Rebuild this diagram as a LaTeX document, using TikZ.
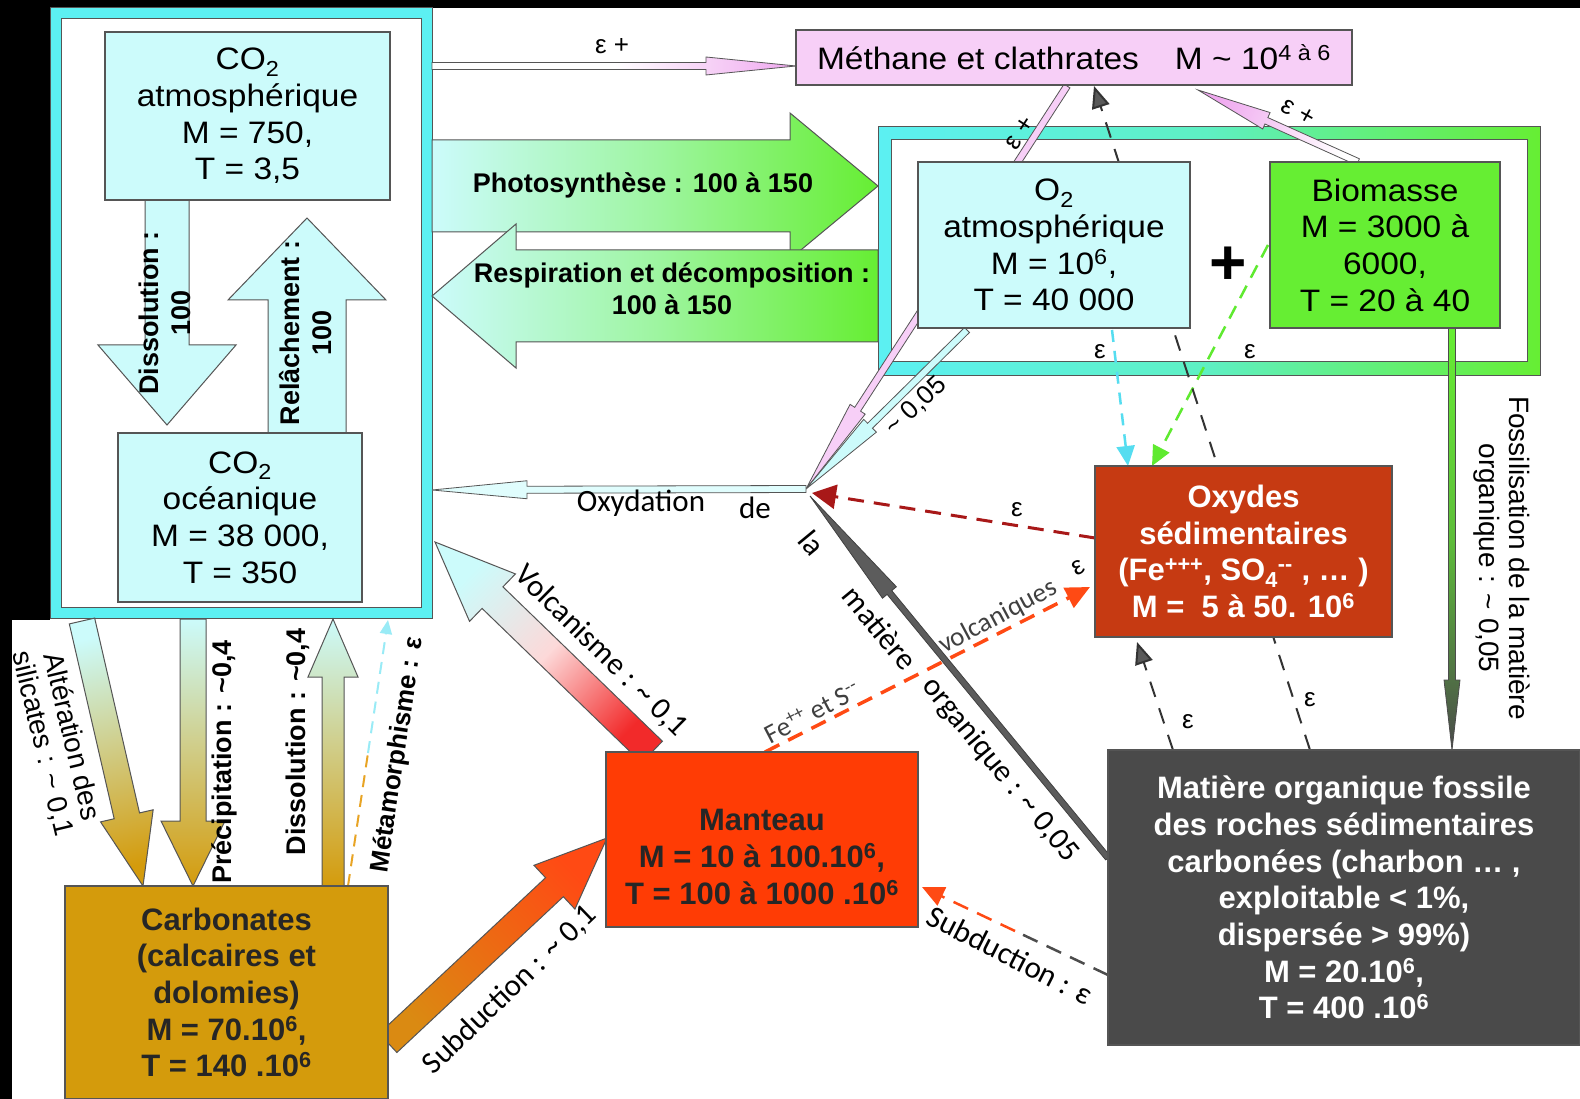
\documentclass[tikz,border=0pt]{standalone}
\usepackage{fontspec}
\setmainfont{Liberation Sans}
\newfontfamily\wideSans[FakeStretch=1.08]{Liberation Sans}
\newfontfamily\calSans{Carlito}
\usetikzlibrary{calc,arrows.meta}
\pgfdeclarelayer{back}
\pgfdeclarelayer{lines}
\pgfsetlayers{back,lines,main}
\definecolor{lcyan}{HTML}{CCFBFB}
\definecolor{fcyan}{HTML}{5CF0F2}
\definecolor{bgreen}{HTML}{66EE33}
\definecolor{lpink}{HTML}{F7CFF7}
\definecolor{hpink}{HTML}{EFA8EF}
\definecolor{mustard}{HTML}{D49B0C}
\definecolor{subor}{HTML}{DA8A12}
\definecolor{mred}{HTML}{FF3C05}
\definecolor{oxred}{HTML}{C63A12}
\definecolor{fgray}{HTML}{4A4A4A}
\definecolor{bord}{HTML}{555555}
\definecolor{dred}{HTML}{A81818}
\definecolor{orred}{HTML}{FF4A14}
\definecolor{dcyan}{HTML}{55DDF0}
\definecolor{dgreen}{HTML}{5FEA30}
\definecolor{vred}{HTML}{F22A2A}
\definecolor{metor}{HTML}{E8A424}
\newcommand\fBox{\wideSans\fontsize{31}{36.7}\selectfont}
\newcommand\fBoxB{\bfseries\fontsize{31}{36.7}\selectfont}
\newcommand\fLab{\bfseries\fontsize{27}{32}\selectfont}
\newcommand\fLabS{\bfseries\fontsize{26}{30}\selectfont}
\newcommand\fReg{\fontsize{26}{30}\selectfont}
\newcommand\fFos{\fontsize{28}{30}\selectfont}
\newcommand\fCal{\calSans\fontsize{31}{34}\selectfont}
\newcommand\fCals{\calSans\fontsize{27}{30}\selectfont}
\newcommand\tld{\textasciitilde}
\newcommand\blockarr[7]{%
  \coordinate (#7h) at ($(#3)!#6!(#2)$);
  \path[#1] ($(#2)!#4!90:(#3)$) -- ($(#7h)!#4!90:(#3)$) -- ($(#7h)!#5!90:(#3)$) -- (#3)
    -- ($(#7h)!#5!-90:(#3)$) -- ($(#7h)!#4!-90:(#3)$) -- ($(#2)!#4!-90:(#3)$) -- cycle;}
\tikzset{
  box/.style={draw=bord, line width=1.3pt, align=center, inner sep=0pt},
  lbl/.style={inner sep=0pt, align=center},
  barr/.style={draw=bord, line width=1pt},
  tarr/.style={draw=bord, line width=0.8pt},
  dsh/.style={dash pattern=on 16pt off 10pt, line width=3pt},
  dshk/.style={dash pattern=on 16pt off 12pt, line width=2pt, draw=black!80},
}
\begin{document}
\begin{tikzpicture}[x=1pt,y=-1pt]
\useasboundingbox (0,0) rectangle (1580,1099);

% ---------- background and frames ----------
\begin{pgfonlayer}{back}
\fill[white] (-5,-5) rectangle (1585,1104);
\fill[black] (0,0) rectangle (1580,8);
\fill[black] (0,0) rectangle (50,620);
\fill[black] (0,620) rectangle (12,1099);
\node[draw=bord, line width=1pt, fill=fcyan, minimum width=382pt, minimum height=610pt, inner sep=0pt] (co2frame) at (241,313) {};
\node[draw=bord, line width=1pt, fill=white, minimum width=360pt, minimum height=588pt, inner sep=0pt] (co2inner) at (241,313) {};
\node[draw=bord, line width=1pt, left color=fcyan, right color=bgreen, middle color=fcyan!75!bgreen, minimum width=662pt, minimum height=248pt, inner sep=0pt] (o2frame) at (1209,251) {};
\node[draw=bord, line width=1pt, fill=white, minimum width=636pt, minimum height=222pt, inner sep=0pt] (o2inner) at (1209,251) {};
\end{pgfonlayer}

% ---------- boxes ----------
\node[box, fill=lcyan, minimum width=285pt, minimum height=168pt, font=\fBox] (co2atm) at (247.5,116)
  {CO\textsubscript{2}\\atmosphérique\\M = 750,\\T = 3,5};
\node[box, fill=lcyan, minimum width=244pt, minimum height=169pt, font=\fBox] (co2oce) at (240,517.5)
  {CO\textsubscript{2}\\océanique\\M = 38 000,\\T = 350};
\node[box, fill=lpink, minimum width=556pt, minimum height=55pt, font=\fBox] (meth) at (1074,57.5)
  {Méthane et clathrates\hspace{36pt}M \tld{} 10\textsuperscript{4 à 6}};
\node[box, fill=lcyan, minimum width=272pt, minimum height=166pt, font=\fBox] (o2) at (1054,245)
  {O\textsubscript{2}\\atmosphérique\\M = 10\textsuperscript{6},\\T = 40 000};
\node[box, fill=bgreen, minimum width=230pt, minimum height=166pt, font=\fBox] (biom) at (1385,245)
  {Biomasse\\M = 3000 à\\6000,\\T = 20 à 40};
\node[lbl, font=\bfseries\fontsize{64}{64}\selectfont] (plus) at (1228,266) {+};
\node[box, fill=oxred, text=white, minimum width=297pt, minimum height=171pt, font=\fBoxB] (oxy) at (1243.5,551.5)
  {Oxydes\\sédimentaires\\(Fe\textsuperscript{+++}, SO\textsubscript{4}\textsuperscript{-{}-} , … )\\M = \ 5 à 50. 10\textsuperscript{6}};
\node[box, fill=fgray, text=white, minimum width=472pt, minimum height=295pt, font=\fBoxB] (foss) at (1344,897.5)
  {Matière organique fossile\\des roches sédimentaires\\carbonées (charbon … ,\\exploitable < 1\%,\\dispersée > 99\%)\\M = 20.10\textsuperscript{6},\\T = 400 .10\textsuperscript{6}};
\node[box, fill=mred, minimum width=312pt, minimum height=175pt] (mant) at (762,839.5) {};
\node[lbl, font=\fBoxB, text=black!85] (manttxt) at (762,857)
  {Manteau\\M = 10 à 100.10\textsuperscript{6},\\T = 100 à 1000 .10\textsuperscript{6}};
\node[box, fill=mustard, minimum width=323pt, minimum height=213pt, font=\fBoxB, text=black!85] (carb) at (226.5,992.5)
  {Carbonates\\(calcaires et\\dolomies)\\M = 70.10\textsuperscript{6},\\T = 140 .10\textsuperscript{6}};

% ---------- connectors ----------
\begin{pgfonlayer}{lines}
\coordinate (P) at (806,489);
% big block arrows
\coordinate (phA) at (432,186); \coordinate (phB) at (878,186);
\blockarr{barr, bottom color=lcyan, top color=bgreen, middle color=lcyan!55!bgreen, shading angle=-90}{phA}{phB}{46pt}{73pt}{88pt}{ph}
\coordinate (reA) at (878,296); \coordinate (reB) at (432,296);
\blockarr{barr, bottom color=bgreen, top color=lcyan, middle color=lcyan!55!bgreen, shading angle=90}{reA}{reB}{46pt}{72pt}{84pt}{re}
\coordinate (d1A) at (167,200); \coordinate (d1B) at (167,425);
\blockarr{barr, fill=lcyan}{d1A}{d1B}{22pt}{69pt}{80pt}{d1}
\coordinate (r1A) at (307,433); \coordinate (r1B) at (307,218);
\blockarr{barr, fill=lcyan}{r1A}{r1B}{39pt}{79pt}{82pt}{r1}
\coordinate (alA) at (82,621); \coordinate (alB) at (143,886);
\blockarr{barr, bottom color=lcyan, top color=mustard, shading angle=-166.6}{alA}{alB}{13pt}{27pt}{72pt}{al}
\coordinate (prA) at (193,619); \coordinate (prB) at (193,886);
\blockarr{barr, bottom color=lcyan, top color=mustard, shading angle=-180}{prA}{prB}{13pt}{32pt}{65pt}{pr}
\coordinate (d2A) at (333,886); \coordinate (d2B) at (333,619);
\blockarr{barr, bottom color=mustard, top color=lcyan, shading angle=0}{d2A}{d2B}{11pt}{25pt}{58pt}{d2}
\coordinate (voA) at (652,752); \coordinate (voB) at (435,542);
\blockarr{barr, bottom color=vred, top color=lcyan, middle color=white!82!vred, shading angle=45.9}{voA}{voB}{15pt}{33pt}{80pt}{vo}
\coordinate (suA) at (388,1043); \coordinate (suB) at (607,838);
\blockarr{barr, bottom color=subor, top color=orred, shading angle=-46.9}{suA}{suB}{13pt}{30pt}{72pt}{su}
% thin arrows
\coordinate (teA) at (432,66); \coordinate (teB) at (796,66);
\blockarr{tarr, bottom color=white, top color=hpink, middle color=white, shading angle=-90}{teA}{teB}{3.5pt}{9pt}{90pt}{te}
\coordinate (mpA) at (1067,86);
\blockarr{tarr, fill=lpink}{mpA}{P}{3.5pt}{9pt}{95pt}{mp}
\coordinate (cpA) at (967,330);
\blockarr{tarr, fill=lcyan}{cpA}{P}{3.5pt}{9pt}{90pt}{cp}
\coordinate (oxB) at (432,490);
\blockarr{tarr, fill=lcyan!60!white}{P}{oxB}{3.5pt}{9pt}{95pt}{ox}
\coordinate (dkA) at (1108,858); \coordinate (dkB) at (810,496);
\blockarr{draw=black!75, line width=0.8pt, fill=fgray!90!white}{dkA}{dkB}{3pt}{9pt}{125pt}{dk}
\coordinate (bmA) at (1358,162); \coordinate (bmB) at (1198,90);
\blockarr{tarr, bottom color=white, top color=hpink, shading angle=65.8}{bmA}{bmB}{3.5pt}{9pt}{75pt}{bm}
\coordinate (fsA) at (1452,328); \coordinate (fsB) at (1452,750);
\blockarr{draw=black!70, line width=0.8pt, bottom color=bgreen, top color=fgray, middle color=bgreen!70!fgray, shading angle=-180}{fsA}{fsB}{3.5pt}{8pt}{70pt}{fs}
% dashed arrows
\coordinate (opA) at (1095,538); \coordinate (opB) at (812,493);
\draw[dsh, dred, -{Triangle[length=24pt,width=24pt]}] (opA) -- (opB);
\coordinate (moA) at (765,752); \coordinate (moB) at (1090,587);
\draw[dsh, orred, line width=3.5pt, -{Triangle[length=24pt,width=22pt]}] (moA) -- (moB);
\coordinate (ocA) at (1112,330); \coordinate (ocB) at (1128,466);
\draw[dash pattern=on 12pt off 9pt, line width=2.5pt, dcyan, -{Triangle[length=20pt,width=18pt]}] (ocA) -- (ocB);
\coordinate (bgA) at (1268,245); \coordinate (bgB) at (1152,466);
\draw[dash pattern=on 14pt off 9pt, line width=2.5pt, dgreen, -{Triangle[length=20pt,width=18pt]}] (bgA) -- (bgB);
\coordinate (fmA) at (1310,750); \coordinate (fmB) at (1094,86);
\draw[dshk, -{Triangle[length=22pt,width=18pt,fill=gray!70!black]}] (fmA) -- (fmB);
\coordinate (foA) at (1173,750); \coordinate (foB) at (1137,642);
\draw[dshk, -{Triangle[length=22pt,width=18pt,fill=gray!70!black]}] (foA) -- (foB);
\coordinate (sbA) at (1108,975); \coordinate (sbM) at (1015,931); \coordinate (sbB) at (922,887);
\draw[dash pattern=on 16pt off 10pt, line width=2.5pt, gray!60!black] (sbA) -- (sbM);
\draw[dash pattern=on 16pt off 10pt, line width=2.5pt, orred, -{Triangle[length=22pt,width=20pt]}] (sbM) -- (sbB);
\coordinate (mtA) at (348,886); \coordinate (mtM) at (368,753); \coordinate (mtB) at (388,620);
\draw[dash pattern=on 12pt off 8pt, line width=2pt, metor] (mtA) -- (mtM);
\draw[dash pattern=on 12pt off 8pt, line width=2pt, dcyan!60!white, -{Triangle[length=14pt,width=12pt]}] (mtM) -- (mtB);
\end{pgfonlayer}

% ---------- labels ----------
\node[lbl, font=\fLab, rotate=90] (lbd1) at (165,313) {Dissolution :\\100};
\node[lbl, font=\fLab, rotate=90] (lbr1) at (306,333) {Relâchement :\\100};
\node[lbl, font=\fLab] (lbph) at (643,185) {Photosynthèse : 100 à 150};
\node[lbl, font=\fLab] (lbre) at (672,289) {Respiration et décomposition :\\100 à 150};
\node[lbl, font=\fReg] (lbte) at (612,46) {ε +};
\node[lbl, font=\fReg, rotate=57] (lbmp) at (1020,133) {ε +};
\node[lbl, font=\fReg, rotate=-29] (lbbm) at (1298,112) {ε +};
\node[lbl, font=\fReg, rotate=43.5] (lbcp) at (916,406) {\tld{} 0,05};
\node[lbl, font=\fFos, rotate=-90] (lbfs) at (1502,558) {Fossilisation de la matière\\organique : \tld{} 0,05};
\node[lbl, font=\fCal] (lox1) at (641,503) {Oxydation};
\node[lbl, font=\fCal] (lox2) at (755,508) {de};
\node[lbl, font=\fCal, rotate=-50.5] (lox3) at (812,543) {la};
\node[lbl, font=\fCal, rotate=-50.5] (lox4) at (880,628) {matière};
\node[lbl, font=\fCal, rotate=-50.5] (lox5) at (1000,770) {organique : \tld{} 0,05};
\node[lbl, font=\fCal, rotate=-44.6] (lvo) at (601,651) {Volcanisme : \tld{} 0,1};
\node[lbl, font=\fCal, rotate=44] (lsu) at (510,990) {Subduction : \tld{} 0,1};
\node[lbl, font=\fCal, rotate=-27] (lsb) at (1010,955) {Subduction : ε};
\node[lbl, font=\fCals, text=black!75, rotate=27.5] (lfe) at (812,712) {Fe\textsuperscript{++} et S\textsuperscript{-{}-}};
\node[lbl, font=\fCals, text=black!75, rotate=28] (lvc) at (998,617) {volcaniques};
\node[lbl, font=\fReg, rotate=28] (lep1) at (1078,568) {ε};
\node[lbl, font=\fReg] (lep2) at (1017,510) {ε};
\node[lbl, font=\fReg] (lep3) at (1100,352) {ε};
\node[lbl, font=\fReg] (lep4) at (1250,352) {ε};
\node[lbl, font=\fReg] (lep5) at (1188,722) {ε};
\node[lbl, font=\fReg] (lep6) at (1310,700) {ε};
\node[lbl, font=\fFos, rotate=-76.6] (lal) at (57,740) {Altération des\\silicates : \tld{} 0,1};
\node[lbl, font=\fLab, rotate=90] (lpr) at (224,762) {Précipitation : \tld0,4};
\node[lbl, font=\fLab, rotate=90] (ld2) at (298,742) {Dissolution : \tld0,4};
\node[lbl, font=\fLabS, rotate=81.4] (lmt) at (398,755) {Métamorphisme : ε};
\end{tikzpicture}
\end{document}
